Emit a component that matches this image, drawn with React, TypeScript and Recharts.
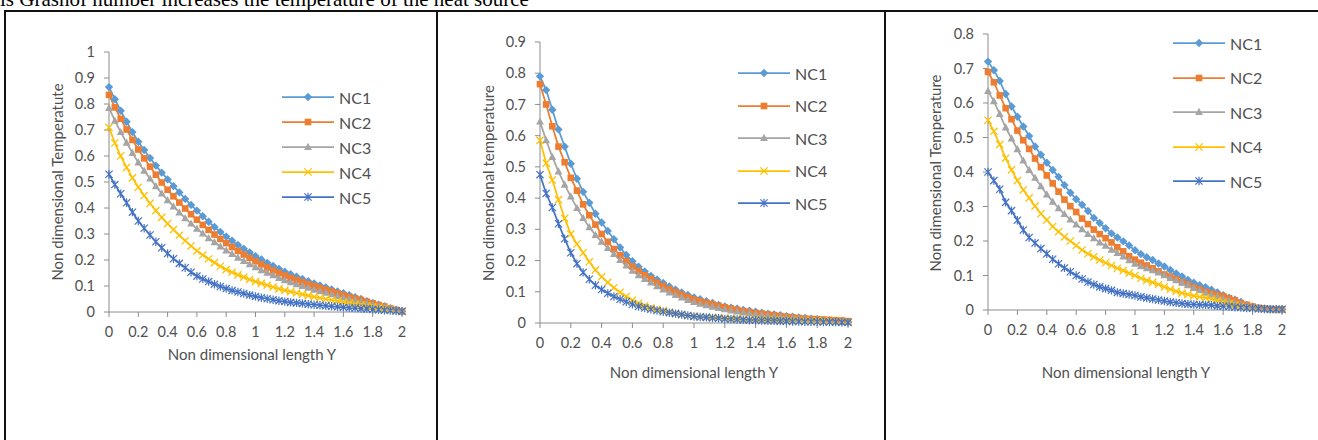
import { LineChart, Line, XAxis, YAxis } from 'recharts';

// Non dimensional length Y (sample points)
const yPos = [
  0, 0.04, 0.08, 0.12, 0.16, 0.2, 0.24, 0.28, 0.32, 0.36, 0.4, 0.44, 0.48, 0.52, 0.56, 0.6, 0.64,
  0.68, 0.72, 0.76, 0.8, 0.84, 0.88, 0.92, 0.96, 1, 1.04, 1.08, 1.12, 1.16, 1.2, 1.24, 1.28, 1.32,
  1.36, 1.4, 1.44, 1.48, 1.52, 1.56, 1.6, 1.64, 1.68, 1.72, 1.76, 1.8, 1.84, 1.88, 1.92, 1.96, 2,
];

const xTicks = [0, 0.2, 0.4, 0.6, 0.8, 1, 1.2, 1.4, 1.6, 1.8, 2];
const yTicks1 = [0, 0.1, 0.2, 0.3, 0.4, 0.5, 0.6, 0.7, 0.8, 0.9, 1];
const yTicks2 = [0, 0.1, 0.2, 0.3, 0.4, 0.5, 0.6, 0.7, 0.8, 0.9];
const yTicks3 = [0, 0.1, 0.2, 0.3, 0.4, 0.5, 0.6, 0.7, 0.8];

// left panel
const p1NC1 = [0.865, 0.818, 0.774, 0.732, 0.692, 0.655, 0.623, 0.592, 0.563, 0.536, 0.51, 0.484, 0.46, 0.435, 0.412, 0.39, 0.368, 0.347, 0.327, 0.308, 0.29, 0.274, 0.258, 0.243, 0.229, 0.215, 0.202, 0.189, 0.177, 0.166, 0.155, 0.145, 0.136, 0.127, 0.118, 0.11, 0.102, 0.094, 0.087, 0.079, 0.072, 0.065, 0.057, 0.05, 0.042, 0.035, 0.028, 0.022, 0.015, 0.009, 0.003];
const p1NC2 = [0.835, 0.787, 0.743, 0.702, 0.662, 0.625, 0.591, 0.559, 0.528, 0.498, 0.47, 0.445, 0.421, 0.398, 0.376, 0.355, 0.335, 0.316, 0.298, 0.281, 0.265, 0.25, 0.235, 0.221, 0.208, 0.195, 0.183, 0.171, 0.16, 0.15, 0.14, 0.131, 0.123, 0.115, 0.107, 0.1, 0.093, 0.086, 0.079, 0.072, 0.065, 0.058, 0.052, 0.046, 0.039, 0.033, 0.027, 0.021, 0.014, 0.008, 0.002];
const p1NC3 = [0.785, 0.736, 0.692, 0.651, 0.612, 0.575, 0.543, 0.513, 0.484, 0.456, 0.43, 0.406, 0.383, 0.361, 0.34, 0.32, 0.302, 0.284, 0.268, 0.252, 0.237, 0.223, 0.209, 0.196, 0.184, 0.172, 0.161, 0.151, 0.141, 0.131, 0.122, 0.114, 0.107, 0.1, 0.093, 0.086, 0.08, 0.074, 0.068, 0.062, 0.056, 0.05, 0.045, 0.039, 0.034, 0.028, 0.023, 0.018, 0.012, 0.007, 0.002];
const p1NC4 = [0.71, 0.65, 0.6, 0.556, 0.516, 0.48, 0.448, 0.418, 0.39, 0.364, 0.34, 0.317, 0.295, 0.274, 0.254, 0.235, 0.219, 0.204, 0.19, 0.176, 0.163, 0.153, 0.143, 0.134, 0.125, 0.117, 0.11, 0.103, 0.096, 0.089, 0.083, 0.078, 0.073, 0.068, 0.063, 0.058, 0.054, 0.05, 0.046, 0.042, 0.038, 0.035, 0.031, 0.028, 0.024, 0.021, 0.017, 0.013, 0.009, 0.005, 0.002];
const p1NC5 = [0.53, 0.49, 0.455, 0.42, 0.384, 0.35, 0.322, 0.296, 0.27, 0.247, 0.225, 0.205, 0.187, 0.17, 0.153, 0.138, 0.127, 0.117, 0.107, 0.098, 0.09, 0.083, 0.077, 0.071, 0.065, 0.06, 0.055, 0.051, 0.047, 0.043, 0.04, 0.037, 0.035, 0.033, 0.03, 0.028, 0.026, 0.024, 0.022, 0.02, 0.018, 0.016, 0.015, 0.013, 0.012, 0.01, 0.009, 0.007, 0.006, 0.004, 0.003];

// middle panel
const p2NC1 = [0.79, 0.746, 0.683, 0.62, 0.565, 0.51, 0.462, 0.42, 0.385, 0.35, 0.322, 0.295, 0.268, 0.242, 0.218, 0.198, 0.18, 0.165, 0.151, 0.139, 0.128, 0.117, 0.107, 0.098, 0.09, 0.082, 0.076, 0.07, 0.064, 0.058, 0.053, 0.049, 0.046, 0.042, 0.039, 0.036, 0.033, 0.03, 0.027, 0.025, 0.022, 0.02, 0.018, 0.016, 0.014, 0.012, 0.01, 0.008, 0.006, 0.005, 0.003];
const p2NC2 = [0.765, 0.7, 0.63, 0.565, 0.515, 0.465, 0.424, 0.38, 0.345, 0.315, 0.285, 0.26, 0.237, 0.217, 0.198, 0.181, 0.167, 0.153, 0.141, 0.129, 0.118, 0.108, 0.099, 0.091, 0.083, 0.075, 0.07, 0.065, 0.06, 0.055, 0.05, 0.046, 0.042, 0.038, 0.035, 0.032, 0.03, 0.027, 0.025, 0.022, 0.02, 0.018, 0.016, 0.014, 0.013, 0.012, 0.011, 0.01, 0.009, 0.008, 0.006];
const p2NC3 = [0.645, 0.585, 0.532, 0.485, 0.443, 0.405, 0.368, 0.336, 0.307, 0.282, 0.26, 0.24, 0.221, 0.202, 0.184, 0.167, 0.153, 0.141, 0.13, 0.118, 0.107, 0.098, 0.09, 0.082, 0.074, 0.067, 0.062, 0.057, 0.052, 0.048, 0.044, 0.04, 0.037, 0.034, 0.031, 0.028, 0.026, 0.023, 0.021, 0.019, 0.017, 0.015, 0.013, 0.012, 0.01, 0.009, 0.008, 0.007, 0.006, 0.005, 0.004];
const p2NC4 = [0.585, 0.512, 0.458, 0.395, 0.335, 0.285, 0.253, 0.225, 0.196, 0.17, 0.148, 0.13, 0.113, 0.098, 0.085, 0.073, 0.063, 0.055, 0.049, 0.044, 0.04, 0.035, 0.031, 0.027, 0.024, 0.022, 0.02, 0.019, 0.018, 0.017, 0.016, 0.015, 0.014, 0.013, 0.012, 0.012, 0.011, 0.011, 0.01, 0.01, 0.009, 0.009, 0.008, 0.008, 0.007, 0.007, 0.006, 0.006, 0.005, 0.005, 0.004];
const p2NC5 = [0.475, 0.415, 0.37, 0.318, 0.27, 0.225, 0.19, 0.162, 0.14, 0.121, 0.107, 0.095, 0.085, 0.076, 0.068, 0.06, 0.053, 0.048, 0.044, 0.04, 0.036, 0.033, 0.03, 0.027, 0.024, 0.021, 0.019, 0.018, 0.016, 0.015, 0.013, 0.012, 0.011, 0.01, 0.009, 0.009, 0.008, 0.007, 0.007, 0.006, 0.006, 0.005, 0.005, 0.004, 0.004, 0.004, 0.003, 0.003, 0.003, 0.002, 0.002];

// right panel
const p3NC1 = [0.72, 0.695, 0.664, 0.626, 0.59, 0.56, 0.532, 0.504, 0.474, 0.45, 0.427, 0.406, 0.386, 0.362, 0.34, 0.321, 0.305, 0.287, 0.267, 0.252, 0.237, 0.222, 0.21, 0.199, 0.187, 0.173, 0.162, 0.153, 0.145, 0.135, 0.126, 0.116, 0.106, 0.097, 0.087, 0.079, 0.072, 0.066, 0.059, 0.051, 0.043, 0.036, 0.03, 0.023, 0.015, 0.01, 0.006, 0.004, 0.003, 0.002, 0.002];
const p3NC2 = [0.69, 0.66, 0.622, 0.585, 0.553, 0.52, 0.492, 0.467, 0.439, 0.414, 0.39, 0.367, 0.343, 0.32, 0.301, 0.284, 0.265, 0.249, 0.233, 0.22, 0.208, 0.196, 0.182, 0.17, 0.156, 0.146, 0.137, 0.129, 0.121, 0.112, 0.103, 0.097, 0.089, 0.081, 0.074, 0.066, 0.06, 0.053, 0.048, 0.044, 0.04, 0.034, 0.028, 0.02, 0.015, 0.01, 0.006, 0.004, 0.003, 0.002, 0.002];
const p3NC3 = [0.635, 0.605, 0.568, 0.529, 0.497, 0.466, 0.433, 0.406, 0.383, 0.359, 0.335, 0.314, 0.295, 0.278, 0.262, 0.248, 0.234, 0.22, 0.208, 0.196, 0.186, 0.175, 0.165, 0.155, 0.144, 0.134, 0.127, 0.121, 0.115, 0.109, 0.101, 0.093, 0.086, 0.079, 0.072, 0.064, 0.057, 0.05, 0.044, 0.039, 0.033, 0.027, 0.021, 0.016, 0.012, 0.008, 0.005, 0.003, 0.002, 0.002, 0.001];
const p3NC4 = [0.55, 0.518, 0.48, 0.44, 0.406, 0.375, 0.348, 0.325, 0.301, 0.279, 0.261, 0.242, 0.227, 0.212, 0.2, 0.187, 0.174, 0.163, 0.154, 0.145, 0.137, 0.129, 0.121, 0.114, 0.107, 0.1, 0.092, 0.086, 0.08, 0.074, 0.067, 0.06, 0.054, 0.049, 0.045, 0.041, 0.038, 0.035, 0.032, 0.028, 0.024, 0.019, 0.015, 0.011, 0.008, 0.006, 0.004, 0.003, 0.002, 0.001, 0.001];
const p3NC5 = [0.4, 0.375, 0.35, 0.312, 0.288, 0.26, 0.232, 0.21, 0.194, 0.178, 0.163, 0.147, 0.134, 0.122, 0.111, 0.1, 0.09, 0.081, 0.074, 0.067, 0.062, 0.057, 0.051, 0.048, 0.045, 0.042, 0.038, 0.035, 0.032, 0.029, 0.026, 0.023, 0.021, 0.019, 0.017, 0.016, 0.015, 0.015, 0.014, 0.012, 0.011, 0.01, 0.008, 0.007, 0.006, 0.005, 0.004, 0.003, 0.002, 0.002, 0.002];

const series = [
  { key: 'NC1', color: '#5B9BD5', marker: 'diamond' },
  { key: 'NC2', color: '#ED7D31', marker: 'square' },
  { key: 'NC3', color: '#A5A5A5', marker: 'triangle' },
  { key: 'NC4', color: '#FFC000', marker: 'cross' },
  { key: 'NC5', color: '#4472C4', marker: 'star' },
];

const toRows = (cols: number[][]) =>
  yPos.map((y, i) => ({ y, NC1: cols[0][i], NC2: cols[1][i], NC3: cols[2][i], NC4: cols[3][i], NC5: cols[4][i] }));

const data1 = toRows([p1NC1, p1NC2, p1NC3, p1NC4, p1NC5]);
const data2 = toRows([p2NC1, p2NC2, p2NC3, p2NC4, p2NC5]);
const data3 = toRows([p3NC1, p3NC2, p3NC3, p3NC4, p3NC5]);

const FONT = 'Lato, "Noto Sans", sans-serif';
const TXT = '#505050';
const AXIS = '#8c8c8c';

function Marker({ kind, cx, cy, color }: { kind: string; cx: number; cy: number; color: string }) {
  if (cx == null || cy == null) return null;
  switch (kind) {
    case 'diamond':
      return <path d={`M${cx},${cy - 4.2}L${cx + 4.2},${cy}L${cx},${cy + 4.2}L${cx - 4.2},${cy}Z`} fill={color} />;
    case 'square':
      return <rect x={cx - 3.3} y={cy - 3.3} width={6.6} height={6.6} fill={color} />;
    case 'triangle':
      return <path d={`M${cx},${cy - 4.2}L${cx + 3.9},${cy + 3}L${cx - 3.9},${cy + 3}Z`} fill={color} />;
    case 'cross':
      return (
        <path d={`M${cx - 3.6},${cy - 3.6}L${cx + 3.6},${cy + 3.6}M${cx + 3.6},${cy - 3.6}L${cx - 3.6},${cy + 3.6}`} stroke={color} strokeWidth={1.3} fill="none" />
      );
    default:
      return (
        <path
          d={`M${cx - 3.6},${cy - 3.6}L${cx + 3.6},${cy + 3.6}M${cx + 3.6},${cy - 3.6}L${cx - 3.6},${cy + 3.6}M${cx},${cy - 4.2}L${cx},${cy + 4.2}`}
          stroke={color}
          strokeWidth={1.2}
          fill="none"
        />
      );
  }
}

type PanelProps = {
  data: any[];
  left: number;
  top: number;
  w: number;
  h: number;
  yTicks: number[];
};

const ML = 50;
const MT = 10;
const MR = 20;
const MB = 40;

function Panel({ data, left, top, w, h, yTicks }: PanelProps) {
  return (
    <div style={{ position: 'absolute', left: left - ML, top: top - MT }}>
      <LineChart width={ML + w + MR} height={MT + h + MB} data={data} margin={{ top: MT, right: MR, left: 0, bottom: 0 }}>
        <XAxis
          type="number"
          dataKey="y"
          domain={[0, 2]}
          ticks={xTicks}
          height={MB}
          stroke={AXIS}
          tickSize={5}
          tickMargin={10}
          tick={{ fill: TXT, fontSize: 14.5, fontFamily: FONT }}
        />
        <YAxis
          type="number"
          domain={[0, yTicks[yTicks.length - 1]]}
          ticks={yTicks}
          width={ML}
          stroke={AXIS}
          tickSize={5}
          tickMargin={9}
          tick={{ fill: TXT, fontSize: 14.5, fontFamily: FONT }}
        />
        {series.map((s) => (
          <Line
            key={s.key}
            type="linear"
            dataKey={s.key}
            stroke={s.color}
            strokeWidth={1.75}
            isAnimationActive={false}
            activeDot={false}
            dot={(p: any) => <Marker key={`${s.key}-${p.index}`} kind={s.marker} cx={p.cx} cy={p.cy} color={s.color} />}
          />
        ))}
      </LineChart>
    </div>
  );
}

function LegendBox({ x, y, gap }: { x: number; y: number; gap: number }) {
  return (
    <>
      {series.map((s, i) => (
        <div
          key={s.key}
          style={{ position: 'absolute', left: x, top: y + i * gap - 10, height: 20, display: 'flex', alignItems: 'center', whiteSpace: 'nowrap' }}
        >
          <svg width={52} height={20}>
            <line x1={0} y1={10} x2={52} y2={10} stroke={s.color} strokeWidth={1.75} />
            <Marker kind={s.marker} cx={26} cy={10} color={s.color} />
          </svg>
          <span style={{ marginLeft: 5, fontSize: 16, color: TXT }}>{s.key}</span>
        </div>
      ))}
    </>
  );
}

function YTitle({ x, y, text }: { x: number; y: number; text: string }) {
  return (
    <div
      style={{
        position: 'absolute',
        left: x,
        top: y,
        transform: 'translate(-50%, -50%) rotate(-90deg)',
        whiteSpace: 'nowrap',
        fontSize: 15,
        color: TXT,
      }}
    >
      {text}
    </div>
  );
}

function XTitle({ x, y, text }: { x: number; y: number; text: string }) {
  return (
    <div style={{ position: 'absolute', left: x, top: y, transform: 'translate(-50%, -50%)', whiteSpace: 'nowrap', fontSize: 15, color: TXT }}>
      {text}
    </div>
  );
}

const border = '#111';

export default function App() {
  return (
    <div style={{ position: 'absolute', left: 0, top: 0, width: 1318, height: 440, overflow: 'hidden', background: '#fff', fontFamily: FONT }}>
      <div
        style={{
          position: 'absolute',
          left: 0,
          top: -11,
          fontFamily: '"Liberation Serif", "Times New Roman", serif',
          fontSize: 21,
          lineHeight: '21px',
          whiteSpace: 'nowrap',
          color: '#000',
        }}
      >
        is Grashof number increases the temperature of the heat source
      </div>

      {/* table borders */}
      <div style={{ position: 'absolute', left: 4, top: 10, width: 1320, height: 2, background: border }} />
      <div style={{ position: 'absolute', left: 4, top: 10, width: 2, height: 440, background: border }} />
      <div style={{ position: 'absolute', left: 436, top: 10, width: 2, height: 440, background: border }} />
      <div style={{ position: 'absolute', left: 884, top: 10, width: 2, height: 440, background: border }} />

      <Panel data={data1} left={109} top={52} w={293} h={260} yTicks={yTicks1} />
      <YTitle x={57} y={182} text="Non dimensional Temperatute" />
      <XTitle x={252} y={354} text="Non dimensional length Y" />
      <LegendBox x={282} y={97} gap={25} />

      <Panel data={data2} left={540} top={42} w={308} h={281} yTicks={yTicks2} />
      <YTitle x={488} y={183} text="Non dimensional temperature" />
      <XTitle x={694} y={372} text="Non dimensional length Y" />
      <LegendBox x={738} y={73} gap={32.5} />

      <Panel data={data3} left={988} top={34} w={294} h={276} yTicks={yTicks3} />
      <YTitle x={935} y={173} text="Non dimensional Temperature" />
      <XTitle x={1126} y={372} text="Non dimensional length Y" />
      <LegendBox x={1173} y={43} gap={34.5} />
    </div>
  );
}
